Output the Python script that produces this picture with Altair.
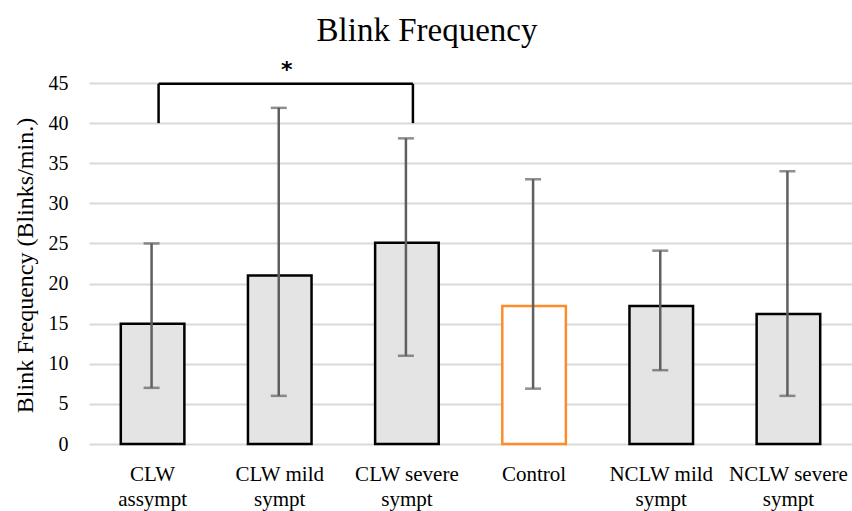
import altair as alt
import pandas as pd

categories = ["CLW|assympt", "CLW mild|sympt", "CLW severe|sympt", "Control",
              "NCLW mild|sympt", "NCLW severe|sympt"]
means = [15.0, 21.0, 25.1, 17.2, 17.2, 16.2]
err_low = [7.0, 6.0, 11.0, 6.9, 9.2, 6.0]
err_high = [25.0, 41.9, 38.1, 33.0, 24.1, 34.0]
fills = ["#e4e4e4", "#e4e4e4", "#e4e4e4", "#ffffff", "#e4e4e4", "#e4e4e4"]
strokes = ["#000000", "#000000", "#000000", "#ff8c2a", "#000000", "#000000"]

bracket_from = "CLW|assympt"
bracket_to = "CLW severe|sympt"
bracket_mid = "CLW mild|sympt"
bracket_top = 44.9
bracket_leg = 40.0
star_y = 47.1

FONT = "Liberation Serif"

df = pd.DataFrame({
    "cat": categories, "mean": means, "lo": err_low, "hi": err_high,
    "fill": fills, "stroke": strokes,
})

xscale = alt.Scale(domain=categories, paddingInner=0.5, paddingOuter=0.25)
yscale = alt.Scale(domain=[0, 45])

xaxis = alt.Axis(labelExpr="split(datum.label, '|')", labelAngle=0,
                 labelFontSize=21, labelFont=FONT, labelColor="#000000",
                 labelLineHeight=25, labelPadding=19, ticks=False,
                 domain=False, grid=False)
yaxis = alt.Axis(values=list(range(0, 50, 5)), labelFontSize=20, labelFont=FONT,
                 labelColor="#000000", labelPadding=21, ticks=False, domain=False,
                 gridColor="#d9d9d9", gridWidth=2, titleFont=FONT,
                 titleFontSize=24, titleFontWeight="normal", titleColor="#000000",
                 titleAngle=270, titleX=-64, titleY=182, titleAlign="center",
                 titleBaseline="middle")

base = alt.Chart(df)

bars = base.mark_bar(strokeWidth=2.5).encode(
    x=alt.X("cat:N", scale=xscale, title=None, axis=xaxis),
    y=alt.Y("mean:Q", scale=yscale, title="Blink Frequency (Blinks/min.)", axis=yaxis),
    fill=alt.Fill("fill:N", scale=None),
    stroke=alt.Stroke("stroke:N", scale=None),
)

err = base.mark_rule(color="#5f5f5f", strokeWidth=2.5, xOffset=-1).encode(
    x=alt.X("cat:N", scale=xscale, title=None),
    y=alt.Y("lo:Q", scale=yscale), y2="hi:Q")
cap_lo = base.mark_tick(color="#5f5f5f", thickness=2.5, size=16, xOffset=-1).encode(
    x=alt.X("cat:N", scale=xscale, title=None), y=alt.Y("lo:Q", scale=yscale))
cap_hi = base.mark_tick(color="#5f5f5f", thickness=2.5, size=16, xOffset=-1).encode(
    x=alt.X("cat:N", scale=xscale, title=None), y=alt.Y("hi:Q", scale=yscale))

bdf = pd.DataFrame({"a": [bracket_from], "b": [bracket_to], "top": [bracket_top],
                    "leg": [bracket_leg], "mid": [bracket_mid], "sy": [star_y],
                    "star": ["*"]})
bbase = alt.Chart(bdf)
hline = bbase.mark_rule(color="#000000", strokeWidth=2.5, xOffset=6, x2Offset=6).encode(
    x=alt.X("a:N", scale=xscale, title=None), x2="b:N",
    y=alt.Y("top:Q", scale=yscale))
leg1 = bbase.mark_rule(color="#000000", strokeWidth=2.5, xOffset=6).encode(
    x=alt.X("a:N", scale=xscale, title=None),
    y=alt.Y("leg:Q", scale=yscale), y2="top:Q")
leg2 = bbase.mark_rule(color="#000000", strokeWidth=2.5, xOffset=6).encode(
    x=alt.X("b:N", scale=xscale, title=None),
    y=alt.Y("leg:Q", scale=yscale), y2="top:Q")
star = bbase.mark_text(fontSize=22, fontWeight="bold", font="DejaVu Sans",
                       color="#000000", dx=7, dy=4, baseline="middle").encode(
    x=alt.X("mid:N", scale=xscale, title=None),
    y=alt.Y("sy:Q", scale=yscale), text="star:N")

chart = alt.layer(bars, err, cap_lo, cap_hi, hline, leg1, leg2, star).properties(
    width=763, height=361,
    title=alt.TitleParams("Blink Frequency", font=FONT, fontSize=33, fontWeight="normal",
                          color="#000000", anchor="middle", dx=-43.5, offset=11),
    autosize=alt.AutoSizeParams(type="none"),
    padding={"left": 89, "top": 83, "right": 0, "bottom": 67},
).configure(
    background="#ffffff", font=FONT,
    view=alt.ViewConfig(stroke=None),
    axis=alt.AxisConfig(labelFont=FONT, titleFont=FONT, labelColor="#000000",
                        titleColor="#000000"),
    style={"guide-label": {"font": FONT}, "guide-title": {"font": FONT}},
)

chart.save("out.html", embed_options={"renderer": "svg", "actions": False})
